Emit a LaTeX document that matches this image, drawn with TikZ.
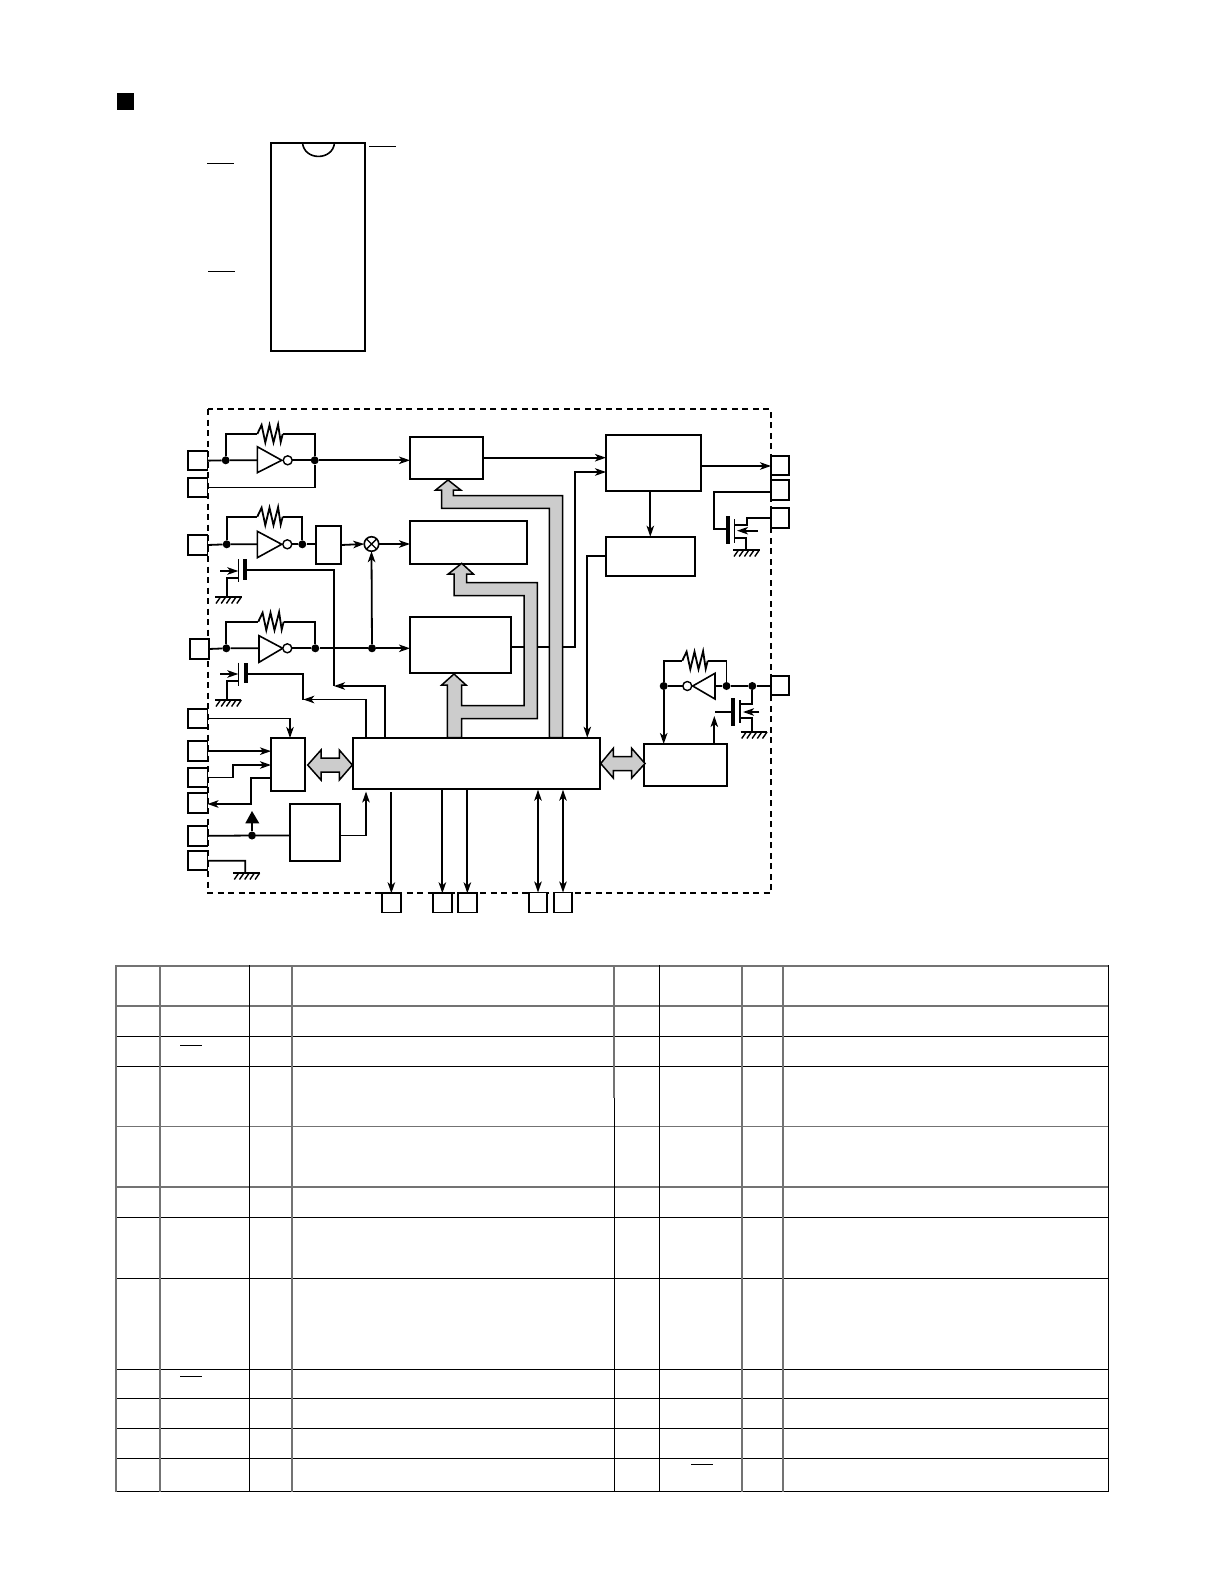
\documentclass[tikz,border=0pt]{standalone}
\usetikzlibrary{arrows.meta}
\tikzset{
  wire/.style={line width=1.8pt,line join=miter},
  arr/.style={wire,-{Stealth[length=11pt,width=7.5pt,inset=3pt]}},
  darr/.style={wire,{Stealth[length=11pt,width=7.5pt,inset=3pt]}-{Stealth[length=11pt,width=7.5pt,inset=3pt]}},
  box/.style={rectangle,draw,line width=1.8pt,fill=white,inner sep=0pt,outer sep=0pt},
  pinbox/.style={rectangle,draw,line width=1.8pt,fill=white,inner sep=0pt,outer sep=0pt},
  nd/.style={circle,fill=black,inner sep=0pt,minimum size=8pt},
  bub/.style={circle,draw,line width=1.4pt,fill=white,inner sep=0pt,outer sep=0pt,minimum size=9pt},
  busfill/.style={draw,line width=1.5pt,fill=black!20,miter limit=10},
  invtri/.style={draw,line width=1.6pt,fill=white},
  tblk/.style={line width=1pt,black},
  tgry/.style={line width=1.8pt,black!55},
  ovbar/.style={line width=1pt}
}
\newcommand{\blk}[6][box]{%
  \pgfmathsetmacro\bw{#5-#3}\pgfmathsetmacro\bh{#6-#4}%
  \node[#1,minimum width=\bw pt,minimum height=\bh pt] (#2) at ({(#3+#5)/2},{(#4+#6)/2}) {};}
\newcommand{\grnd}[3]{% x1 x2 y
  \draw[line width=1.6pt] (#1,#3) -- (#2,#3);
  \foreach \k in {0,1,2,3,4} {\draw[line width=1.4pt] ({#1+5.5+\k*5.2},#3) -- ++(-4.5,6.5);}}
\newcommand{\resist}[2]{% x y : 25 wide
  \draw[wire,line join=miter] (#1,#2) -- ++(4.3,-9) -- ++(3.7,17.5) -- ++(4.2,-17.5) -- ++(4,17.5) -- ++(4.6,-18) -- ++(2.6,17.5) -- ++(2,-8);}
\begin{document}
\begin{tikzpicture}[x=1pt,y=-1pt]
\useasboundingbox (0,0) rectangle (1224,1584);
\fill[white] (0,0) rectangle (1224,1584);

% ---------- heading square, package outline
\fill[black] (117,93) rectangle (134,110);
\draw[line width=1.8pt] (271,142.7) rectangle (365,351);
\draw[line width=1.6pt] (302.5,142.7) .. controls (304,161) and (333,161) .. (334.5,142.7);
\draw[ovbar] (207,163.3) -- (234,163.3);
\draw[ovbar] (208,271.3) -- (235,271.3);
\draw[ovbar] (369,146.3) -- (396,146.3);

% ---------- dashed frame
\draw[line width=1.5pt,dash pattern=on 6pt off 4.5pt] (208,409) rectangle (771,893);

% ---------- pins
\blk[pinbox]{pa}{188}{451.3}{207.5}{470}
\blk[pinbox]{pb}{188}{478}{207.5}{497}
\blk[pinbox]{pc}{188.3}{535}{207.5}{555}
\blk[pinbox]{pd}{190}{639}{208.7}{659}
\blk[pinbox]{pe}{188}{708.7}{207.5}{728.3}
\blk[pinbox]{pf}{188}{741.3}{207.5}{761}
\blk[pinbox]{pg}{188}{767.7}{207.5}{787.3}
\blk[pinbox]{ph}{188}{793.3}{207.5}{812.7}
\blk[pinbox]{pi}{188}{826}{207.5}{845.7}
\blk[pinbox]{pj}{188}{851}{207.5}{870.3}
\blk[pinbox]{pk}{382}{893.3}{400.7}{912.5}
\blk[pinbox]{pl}{433}{893.3}{451.7}{912.5}
\blk[pinbox]{pm}{458}{893.3}{476.7}{912.5}
\blk[pinbox]{pn}{528.7}{892.5}{547.3}{912.5}
\blk[pinbox]{po}{553.7}{892.5}{572.3}{912.5}
\blk[pinbox]{pp}{771}{455.7}{789.3}{475}
\blk[pinbox]{pq}{771}{479.7}{789.3}{500}
\blk[pinbox]{pr}{771}{507.7}{789.3}{528.3}
\blk[pinbox]{ps}{771}{675.7}{789.3}{695}

% ---------- blocks
\blk{ba}{410}{436.7}{483.3}{479}
\blk{bb}{410}{521}{527}{564}
\blk{bc}{410}{617}{511}{673}
\blk{bd}{606}{434.7}{701.3}{490.7}
\blk{be}{606}{536.7}{695}{575.7}
\blk{bf}{316}{526}{341.3}{564}
\blk{bg}{353}{737.7}{600}{788.7}
\blk{bh}{643.7}{744}{727}{786}
\blk{bi}{271}{738}{305}{790.7}
\blk{bj}{289.7}{804}{340.3}{860.7}

% ---------- junctions
\node[nd] (ja1) at (225.7,460.3) {};
\node[nd] (ja2) at (314.7,460.3) {};
\node[nd] (jb1) at (226.7,544.3) {};
\node[nd] (jb2) at (302.3,544.3) {};
\node[nd] (jc1) at (226.3,648.3) {};
\node[nd] (jc2) at (315.3,648.3) {};
\node[nd] (jc3) at (372,648.3) {};
\node[nd] (jd1) at (252,835.5) {};
\node[nd] (je1) at (663.7,686) {};
\node[nd] (je2) at (726.5,686) {};
\node[nd] (je3) at (752.3,686) {};
\node[circle,draw,line width=1.6pt,fill=white,inner sep=0pt,outer sep=0pt,minimum size=14.5pt] (mix) at (371.5,544) {};
\draw[line width=1.4pt] (mix.north west) -- (mix.south east) (mix.north east) -- (mix.south west);

% ---------- oscillator A
\draw[wire] (pa.east) -- (ja1) -- (257.3,460.3);
\draw[wire] (ja1) -- (225.7,434) -- (257.3,434);
\resist{257.3}{434}
\draw[wire] (282.7,434) -- (314.7,434) -- (ja2);
\draw[invtri] (257.3,446.7) -- (281.7,460.3) -- (257.3,472.7) -- cycle;
\node[bub] (ia) at (287.7,460.3) {};
\draw[wire] (ia) -- (ja2);
\draw[wire] (pb.east) -- (314.7,487.5) -- (ja2);
\draw[arr] (ja2) -- (ja2 -| ba.west);

% ---------- oscillator B
\draw[wire] (pc.east) -- (jb1) -- (257.3,544.3);
\draw[wire] (jb1) -- (226.7,516.7) -- (257.3,516.7);
\resist{257.3}{516.7}
\draw[wire] (282.7,516.7) -- (302.3,516.7) -- (jb2);
\draw[invtri] (257.3,531.3) -- (281.7,544.3) -- (257.3,557.7) -- cycle;
\node[bub] (ib) at (287.3,544.3) {};
\draw[wire] (ib) -- (jb2) -- (jb2 -| bf.west);
\draw[arr] (bf.east) -- (mix.west);
\draw[arr] (mix.east) -- (mix -| bb.west);

% ---------- oscillator C
\draw[wire] (pd.east) -- (jc1) -- (259,648.3);
\draw[wire] (jc1) -- (226.3,621.7) -- (258.3,621.7);
\resist{258.3}{621.7}
\draw[wire] (283.7,621.7) -- (315.3,621.7) -- (jc2);
\draw[invtri] (259,635.7) -- (282.7,648.3) -- (259,662.3) -- cycle;
\node[bub] (ic) at (287.3,648.3) {};
\draw[wire] (ic) -- (jc2) -- (jc3);
\draw[arr] (jc3) -- (jc3 -| bc.west);
\draw[arr] (jc3) -- (mix.south);

% ---------- transistors left
\coordinate (ta) at (245,570.3);
\coordinate (tat) at (334,686);
\draw[line width=1.6pt] (238.3,559.3) -- (238.3,581.7);
\draw[line width=4pt] (245,559) -- (245,580);
\draw[arr] (220,571) -- (238.3,571);
\draw[wire] (ta) -- (334,570.3) -- (tat);
\draw[wire] (238.3,577.7) -- (226.7,577.7) -- (226.7,597);
\grnd{215}{241.7}{597}
\draw[arr] (bg.north -| 385,0) -- (385,686) -- (tat);

\coordinate (tb) at (245.5,674);
\coordinate (tbt) at (303.3,699.5);
\draw[line width=1.6pt] (238.3,662.7) -- (238.3,686);
\draw[line width=4pt] (245.8,663) -- (245.8,683);
\draw[arr] (220,674) -- (238.3,674);
\draw[wire] (tb) -- (303.3,674) -- (tbt);
\draw[wire] (238.3,681) -- (226.7,681) -- (226.7,700);
\grnd{215}{240.7}{700}
\draw[arr] (bg.north -| 366.3,0) -- (366.3,699.5) -- (tbt);

% ---------- interface block wiring
\draw[arr] (pe.east) -- (290,718.5) -- (290,738);
\draw[arr] (pf.east) -- (pf.east -| bi.west);
\draw[arr] (pg.east) -- (233,777.5) -- (233,765) -- (271,765);
\draw[arr] (271,778) -- (251,778) -- (251,804) -- (ph.east |- 0,804);
\draw[wire] (pi.east) -- (jd1) -- (jd1 -| bj.west);
\draw[wire] (jd1) -- (252,820);
\fill[black] (252,811) -- (259.3,823.3) -- (245.3,823.3) -- cycle;
\draw[arr] (bj.east |- jd1) -- (366,835.5) -- (366,791.5);
\draw[wire] (pj.east) -- (245.3,860.7) -- (245.3,873);
\grnd{233.3}{260}{873}

% ---------- bottom pins
\draw[arr] (bg.south -| pk.north) ++(0,3.5) -- (pk.north);
\draw[arr] (bg.south -| pl.north) -- (pl.north);
\draw[arr] (bg.south -| pm.north) -- (pm.north);
\draw[darr] (bg.south -| pn.north) ++(0,1) -- (pn.north);
\draw[darr] (bg.south -| po.north) ++(0,1) -- (po.north);

% ---------- right part wiring
\draw[arr] (ba.east |- 0,457.7) -- (bd.west |- 0,457.7);
\draw[arr] (bc.east |- 0,647) -- (575,647) -- (575,472) -- (bd.west |- 0,472);
\draw[arr] (bd.east |- 0,466) -- (771,466);
\draw[arr] (650.3,490.7) -- (650.3,536.7);
\draw[arr] (be.west |- 0,556.3) -- (587.3,556.3) -- (587.3,737.7);

% ---------- output transistor top right
\draw[wire] (pq.west |- 0,491.7) -- (714,491.7) -- (714,529.3) -- (727,529.3);
\draw[line width=4pt] (728,516) -- (728,544);
\draw[line width=1.6pt] (734.3,519.3) -- (734.3,542.7);
\draw[wire] (734.3,525) -- (746.7,525) -- (746.7,517.7) -- (pr.west |- 0,517.7);
\draw[wire] (734.3,538.3) -- (745.7,538.3) -- (745.7,550);
\grnd{733}{760}{550}
\draw[arr] (758,530.7) -- (737,530.7);

% ---------- oscillator right
\draw[wire] (je1) -- (663.7,660.7) -- (682.3,660.7);
\resist{682.3}{660.7}
\draw[wire] (707.5,660.7) -- (726.5,660.7) -- (je2);
\draw[invtri] (715,673.3) -- (692.7,686) -- (715,699) -- cycle;
\node[bub] (id) at (687.3,686) {};
\draw[wire] (je1) -- (id);
\draw[wire] (715,686) -- (je2) -- (je3) -- (je3 -| ps.west);
\draw[arr] (je1) -- (je1 |- bh.north);
\draw[arr] (714.3,744) -- (714.3,716);
\draw[wire] (715,712) -- (732,712);
\draw[line width=4pt] (733.3,698) -- (733.3,725.7);
\draw[line width=1.6pt] (740,700) -- (740,723.3);
\draw[wire] (740,704.3) -- (752.3,704.3) -- (je3);
\draw[wire] (740,718.3) -- (752.3,718.3) -- (752.3,732);
\grnd{740.7}{766.7}{732}
\draw[arr] (759.3,712) -- (743,712);

% ---------- grey buses
\draw[busfill] (448,480) -- (460.7,490) -- (453.3,490) -- (453.3,495.5) -- (562.7,495.5)
  -- (562.7,737.7) -- (549.3,737.7) -- (549.3,508.3) -- (441.7,508.3) -- (441.7,490) -- (435.7,490) -- cycle;
\draw[busfill] (461.7,563.3) -- (473.3,574) -- (466.7,574) -- (466.7,582.7) -- (537.3,582.7)
  -- (537.3,718.7) -- (461.7,718.7) -- (461.7,737.7) -- (447.3,737.7) -- (447.3,685) -- (441.7,685)
  -- (454,674) -- (466,685) -- (461.7,685) -- (461.7,705.5) -- (524,705.5) -- (524,595.7) -- (454,595.7)
  -- (454,574) -- (448.3,574) -- cycle;
\draw[busfill] (307.7,765) -- (321,750) -- (321,758) -- (339.3,758) -- (339.3,750) -- (352.3,765)
  -- (339.3,780) -- (339.3,772) -- (321,772) -- (321,780) -- cycle;
\draw[busfill] (600.7,763.5) -- (613.3,748.3) -- (613.3,756.7) -- (631.7,756.7) -- (631.7,748.3) -- (645,763.5)
  -- (631.7,778) -- (631.7,770.7) -- (613.3,770.7) -- (613.3,778) -- cycle;

% ---------- table
\foreach \yy in {965.7,1006,1126.5,1187} {\draw[tgry] (116,\yy) -- (1108,\yy);}
\foreach \yy in {1036,1066.5,1217,1278,1369,1398.5,1428.5,1458.5,1491} {\draw[tblk] (116,\yy) -- (1108,\yy);}
\foreach \xx in {116,160,292,742.3,782.7} {\draw[tgry] (\xx,965) -- (\xx,1491.5);}
\foreach \xx in {249.4,659.5,1108} {\draw[tblk] (\xx,965) -- (\xx,1491.5);}
\draw[tgry] (614.3,965) -- (614.3,1097.7);
\draw[tblk] (614.3,1097.7) -- (614.3,1491.5);
\draw[ovbar] (180,1045.3) -- (202,1045.3);
\draw[ovbar] (180,1376.3) -- (202,1376.3);
\draw[ovbar] (691.4,1464.7) -- (713,1464.7);
\end{tikzpicture}
\end{document}
